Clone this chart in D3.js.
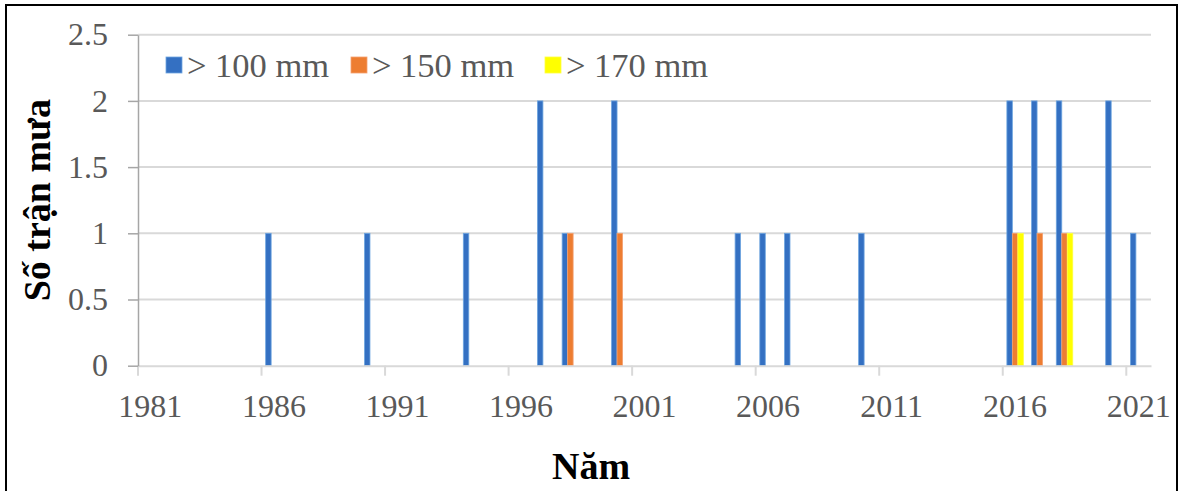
<!DOCTYPE html>
<html>
<head>
<meta charset="utf-8">
<script src="https://cdn.jsdelivr.net/npm/d3@7/dist/d3.min.js"></script>
<style>
  html, body { margin: 0; padding: 0; background: #fff; }
  svg { display: block; }
</style>
</head>
<body>
<script>
const years = d3.range(1981, 2022);
const seriesNames = ["> 100 mm", "> 150 mm", "> 170 mm"];
//                1981 ........................................................................... 2021
const s100 = [0,0,0,0,0,1,0,0,0,1,0,0,0,1,0,0,2,1,0,2,0,0,0,0,1,1,1,0,0,1,0,0,0,0,0,2,2,2,0,2,1];
const s150 = [0,0,0,0,0,0,0,0,0,0,0,0,0,0,0,0,0,1,0,1,0,0,0,0,0,0,0,0,0,0,0,0,0,0,0,1,1,1,0,0,0];
const s170 = [0,0,0,0,0,0,0,0,0,0,0,0,0,0,0,0,0,0,0,0,0,0,0,0,0,0,0,0,0,0,0,0,0,0,0,1,0,1,0,0,0];
const yTicks = [0, 0.5, 1, 1.5, 2, 2.5];
const xTickYears = [1981, 1986, 1991, 1996, 2001, 2006, 2011, 2016, 2021];
const yTitle = "Số trận mưa";
const xTitle = "Năm";

const colors = ["#3470C2", "#ED7D31", "#FFFF00"];
const strokes = ["#6FA6E0", "#F4A070", "#FFFF40"];
const seriesData = [s100, s150, s170];

const W = 1182, H = 491;
const plot = { left: 138, right: 1151, top: 34.7, bottom: 365.7 };
const serif = "'Liberation Serif', 'Times New Roman', serif";

const svg = d3.select("body").append("svg").attr("width", W).attr("height", H);

// outer border
svg.append("rect").attr("x", 6).attr("y", 5).attr("width", 1171).attr("height", 520)
  .attr("fill", "none").attr("stroke", "#000").attr("stroke-width", 2);

const x = d3.scaleBand().domain(years).range([plot.left, plot.right]).padding(0);
const xs = d3.scaleBand().domain(d3.range(3)).range([0, x.bandwidth()]).paddingInner(0).paddingOuter(0.75);
const y = d3.scaleLinear().domain([0, 2.5]).range([plot.bottom, plot.top]);

// gridlines
svg.append("g").selectAll("line").data(yTicks.filter(d => d > 0)).join("line")
  .attr("x1", plot.left).attr("x2", plot.right)
  .attr("y1", d => y(d)).attr("y2", d => y(d))
  .attr("stroke", "#d9d9d9").attr("stroke-width", 2);

// bars
const bars = svg.append("g");
seriesData.forEach((arr, si) => {
  bars.selectAll(null).data(years.map((yr, i) => ({ yr, v: arr[i] })).filter(d => d.v > 0))
    .join("rect")
    .attr("x", d => x(d.yr) + xs(si))
    .attr("width", xs.bandwidth())
    .attr("y", d => y(d.v))
    .attr("height", d => y(0) - y(d.v))
    .attr("fill", colors[si])
    .attr("stroke", strokes[si]).attr("stroke-width", 0.8);
});

// x axis
const xAxis = d3.axisBottom(x).tickValues(xTickYears).tickSize(10).tickSizeOuter(0).tickPadding(19);
const gx = svg.append("g").attr("transform", `translate(0,${plot.bottom})`).call(xAxis);
gx.attr("font-family", null).attr("font-size", null);
gx.select(".domain").attr("stroke", "#d9d9d9").attr("stroke-width", 2);
gx.selectAll(".tick line").attr("stroke", "#d9d9d9").attr("stroke-width", 2)
  .attr("transform", `translate(${-x.bandwidth() / 2},0)`);
gx.selectAll(".tick text").attr("fill", "#595959")
  .style("font-family", serif).style("font-size", "32px");

// y axis
const yAxis = d3.axisLeft(y).tickValues(yTicks).tickSize(10).tickSizeOuter(0).tickPadding(20)
  .tickFormat(d => String(d));
const gy = svg.append("g").attr("transform", `translate(${plot.left},0)`).call(yAxis);
gy.attr("font-family", null).attr("font-size", null);
gy.select(".domain").attr("stroke", "#a6a6a6").attr("stroke-width", 1.5);
gy.selectAll(".tick line").attr("stroke", "#a6a6a6").attr("stroke-width", 1.5);
gy.selectAll(".tick text").attr("fill", "#595959")
  .style("font-family", serif).style("font-size", "32px");

// legend
const legendX = [166, 351, 545];
const lg = svg.append("g");
seriesNames.forEach((name, i) => {
  lg.append("rect").attr("x", legendX[i]).attr("y", 57).attr("width", 16).attr("height", 16)
    .attr("fill", colors[i]).attr("stroke", strokes[i]).attr("stroke-width", 0.8);
  lg.append("text").attr("x", legendX[i] + 21).attr("y", 77).text(name)
    .attr("fill", "#595959")
    .style("font-family", serif).style("font-size", "34.5px");
});

// axis titles
svg.append("text").attr("transform", `translate(50,${(plot.top + plot.bottom) / 2}) rotate(-90)`)
  .attr("text-anchor", "middle").text(yTitle)
  .style("font-family", serif).style("font-size", "38px")
  .style("font-weight", "bold").attr("fill", "#000");
svg.append("text").attr("x", 591).attr("y", 479).attr("text-anchor", "middle").text(xTitle)
  .style("font-family", serif).style("font-size", "38px")
  .style("font-weight", "bold").attr("fill", "#000");
</script>
</body>
</html>
